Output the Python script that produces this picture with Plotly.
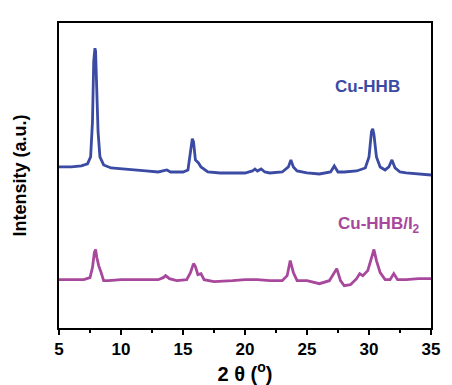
import plotly.graph_objects as go

# 2theta (degrees) and intensity (a.u.)
theta_cuhhb = [5.0, 6.0, 6.8, 7.3, 7.55, 7.7, 7.8, 7.9, 7.95, 8.05, 8.15, 8.3, 8.6, 9.2, 10, 11, 12, 13, 13.5, 13.7,
               14, 15, 15.4, 15.6, 15.75, 15.85, 16.0, 16.25, 16.45, 17, 18, 19, 20, 20.6, 20.8, 21.0, 21.3, 21.6,
               22, 23, 23.5, 23.7, 23.9, 24.2, 24.5, 25, 26, 26.9, 27.2, 27.5, 28, 29, 29.7, 30.0, 30.2, 30.3,
               30.4, 30.6, 30.9, 31.3, 31.6, 31.85, 32.1, 32.5, 33, 34, 35]
int_cuhhb = [160, 160, 161, 163, 170, 205, 265, 278, 275, 235, 195, 170, 162, 159, 158, 157, 156, 155, 156, 157,
             155, 155, 157, 175, 188, 185, 167, 164, 160, 155, 154, 154, 154, 156, 158, 156, 158, 155,
             154, 155, 160, 167, 160, 156, 155, 154, 153, 155, 161, 155, 155, 156, 159, 170, 195, 198,
             192, 170, 160, 157, 160, 167, 159, 155, 154, 153, 152]

theta_cuhhb_i2 = [5, 6, 7, 7.5, 7.7, 7.85, 7.95, 8.05, 8.2, 8.4, 8.6, 9, 10, 11, 12, 13, 13.4, 13.6, 13.9, 14.5,
                  15.3, 15.6, 15.85, 16.0, 16.2, 16.45, 16.7, 17.5, 19, 20, 21, 22, 23, 23.4, 23.65, 23.9, 24.2,
                  25, 26, 26.8, 27.1, 27.4, 27.7, 28, 28.5, 29.0, 29.25, 29.5, 29.9, 30.2, 30.4, 30.6, 30.9,
                  31.3, 31.7, 32.0, 32.3, 33, 34, 35]
int_cuhhb_i2 = [48, 48, 48, 50, 60, 75, 78, 70, 62, 55, 47, 47, 48, 48, 48, 48, 50, 52, 49, 47,
                48, 55, 64, 61, 53, 54, 48, 46, 47, 48, 48, 47, 47, 52, 67, 55, 47,
                47, 44, 47, 53, 59, 47, 42, 43, 49, 54, 52, 57, 70, 78, 67, 55,
                48, 48, 54, 48, 48, 49, 49]

x_ticks = [5, 10, 15, 20, 25, 30, 35]

blue = "#3b4aa3"
pink = "#a8489c"
font_family = "Arial, Liberation Sans, sans-serif"

fig = go.Figure()
fig.add_trace(go.Scatter(x=theta_cuhhb, y=int_cuhhb, mode="lines",
                         line=dict(color=blue, width=2.8), showlegend=False))
fig.add_trace(go.Scatter(x=theta_cuhhb_i2, y=int_cuhhb_i2, mode="lines",
                         line=dict(color=pink, width=2.8), showlegend=False))

fig.add_annotation(x=29.9, y=240, text="<b>Cu-HHB</b>", showarrow=False,
                   font=dict(family=font_family, size=17, color=blue))
fig.add_annotation(x=30.8, y=102, text="<b>Cu-HHB/I<sub>2</sub></b>", showarrow=False,
                   font=dict(family=font_family, size=17, color=pink))

fig.update_layout(
    width=444, height=377,
    margin=dict(l=47, r=13, t=15, b=52),
    paper_bgcolor="white", plot_bgcolor="white",
    font=dict(family=font_family, color="black"),
    xaxis=dict(
        range=[5, 35], tickvals=x_ticks, ticktext=["<b>%d</b>" % v for v in x_ticks],
        ticks="outside", ticklen=5, tickwidth=2, tickcolor="black",
        minor=dict(ticks="outside", ticklen=3, tickwidth=1.5, tickcolor="black", dtick=2.5),
        showline=True, linewidth=2, linecolor="black", mirror=True,
        showgrid=False, zeroline=False,
        tickfont=dict(family=font_family, size=17, color="black"),
        title=dict(text="<b>2 θ (<sup>o</sup>)</b>", font=dict(family=font_family, size=20, color="black"),
                   standoff=0),
    ),
    yaxis=dict(
        range=[0, 303], showticklabels=False, ticks="",
        showline=True, linewidth=2, linecolor="black", mirror=True,
        showgrid=False, zeroline=False,
        title=dict(text="<b>Intensity (a.u.)</b>", font=dict(family=font_family, size=18, color="black"),
                   standoff=26),
    ),
)

fig.write_html("out.html")
